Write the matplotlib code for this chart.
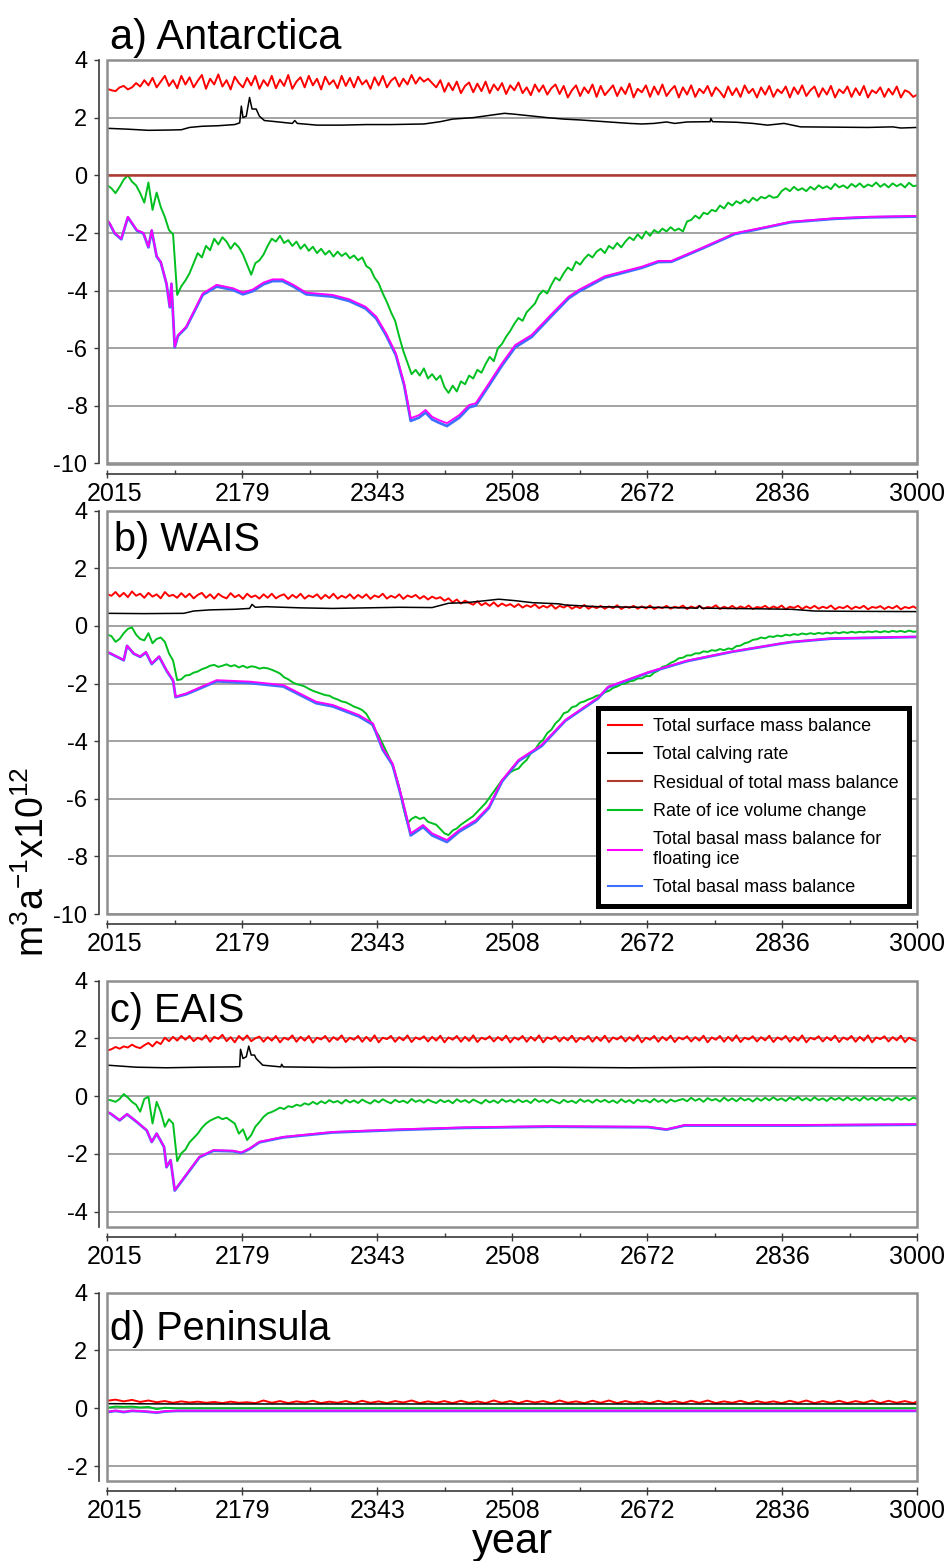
import numpy as np
import matplotlib.pyplot as plt
from matplotlib.lines import Line2D
from matplotlib.patches import Rectangle
from matplotlib.transforms import ScaledTranslation

plt.rcParams['font.family'] = ['Liberation Sans', 'DejaVu Sans']
plt.rcParams['axes.unicode_minus'] = False
plt.rcParams['mathtext.default'] = 'regular'

# sampling years of the noisy series (surface mass balance, volume change)
yr5 = np.arange(2015, 3001, 5)
yr10 = np.append(np.arange(2015, 3000, 10), 3000)

xtick_labels = ['2015', '2179', '2343', '2508', '2672', '2836', '3000']

# ---------------- a) Antarctica ----------------
a_smb = [3.00, 2.95, 2.92, 3.05, 3.10, 2.98, 3.05, 3.20, 3.08, 3.30, 3.12, 3.38, 3.05, 3.25, 3.45, 3.10, 3.30, 3.02, 3.45, 3.15,
         3.40, 3.05, 3.28, 3.48, 3.00, 3.35, 3.15, 3.50, 3.08, 3.30, 2.98, 3.42, 3.20, 3.05, 3.38, 3.12, 3.45, 3.00, 3.30, 3.10,
         3.45, 3.02, 3.32, 3.10, 3.48, 3.00, 3.25, 3.40, 3.05, 3.45, 3.12, 3.35, 2.98, 3.42, 3.15, 3.30, 3.02, 3.45, 3.10, 3.38,
         3.05, 3.42, 3.15, 3.30, 3.00, 3.40, 3.12, 3.45, 3.05, 3.28, 3.40, 3.08, 3.35, 3.15, 3.48, 3.18, 3.40, 3.25, 3.35, 3.20,
         3.05, 3.30, 2.90, 3.20, 2.95, 3.25, 2.85, 3.10, 3.22, 2.88, 3.18, 2.92, 3.25, 2.85, 3.15, 2.95, 3.20, 2.82, 3.12, 2.95,
         3.22, 2.85, 3.05, 2.78, 3.15, 2.90, 3.12, 2.80, 3.02, 3.15, 2.82, 3.10, 2.70, 2.95, 3.12, 2.75, 3.05, 2.85, 3.15, 2.72,
         3.10, 2.78, 2.95, 3.12, 2.75, 3.05, 2.82, 3.18, 2.70, 3.00, 2.88, 3.12, 2.72, 3.08, 2.80, 3.15, 2.75, 2.95, 3.10, 2.70,
         3.05, 2.80, 3.12, 2.72, 3.00, 2.85, 3.10, 2.75, 3.05, 2.90, 2.70, 3.08, 2.78, 3.02, 2.72, 3.12, 2.85, 3.00, 2.70, 3.05,
         2.80, 3.10, 2.72, 2.98, 2.85, 3.08, 2.70, 3.05, 2.82, 3.12, 2.75, 2.95, 3.08, 2.72, 3.02, 2.80, 3.10, 2.70, 2.98, 2.85,
         3.08, 2.72, 3.02, 2.78, 3.10, 2.70, 2.95, 2.85, 3.05, 2.72, 3.00, 2.80, 3.08, 2.70, 2.95, 2.88, 2.72, 2.80]
a_dvol = [-0.35, -0.45, -0.62, -0.40, -0.15, 0.00, -0.22, -0.35, -0.62, -0.95, -0.25, -1.20, -0.60, -1.10, -1.45, -1.90, -2.05, -4.15, -3.85, -3.65,
          -3.40, -3.05, -2.70, -2.85, -2.45, -2.60, -2.20, -2.40, -2.15, -2.30, -2.55, -2.35, -2.50, -2.75, -3.10, -3.45, -3.05, -2.95, -2.75, -2.45,
          -2.20, -2.30, -2.10, -2.35, -2.25, -2.45, -2.30, -2.55, -2.40, -2.62, -2.48, -2.70, -2.55, -2.75, -2.62, -2.82, -2.65, -2.80, -2.70, -2.88,
          -2.78, -2.95, -2.85, -3.15, -3.25, -3.55, -3.75, -4.10, -4.40, -4.75, -5.05, -5.60, -6.10, -6.50, -6.90, -6.75, -6.95, -6.70, -7.05, -6.90,
          -7.10, -6.95, -7.35, -7.55, -7.30, -7.50, -7.15, -7.25, -6.95, -7.05, -6.75, -6.85, -6.55, -6.30, -6.45, -6.00, -5.85, -5.60, -5.40, -5.15,
          -4.95, -5.05, -4.75, -4.60, -4.45, -4.15, -4.00, -4.10, -3.80, -3.55, -3.65, -3.40, -3.20, -3.30, -3.00, -3.10, -2.90, -2.75, -2.85, -2.65,
          -2.55, -2.70, -2.45, -2.55, -2.35, -2.50, -2.30, -2.15, -2.25, -2.05, -2.20, -1.95, -2.10, -1.90, -2.00, -1.85, -1.95, -1.80, -1.92, -1.85,
          -1.95, -1.60, -1.55, -1.40, -1.50, -1.30, -1.35, -1.20, -1.25, -1.05, -1.15, -0.95, -1.05, -0.90, -0.98, -0.85, -0.95, -0.78, -0.88, -0.75,
          -0.80, -0.70, -0.78, -0.75, -0.55, -0.45, -0.55, -0.40, -0.52, -0.45, -0.55, -0.40, -0.50, -0.35, -0.45, -0.38, -0.48, -0.30, -0.42, -0.35,
          -0.45, -0.30, -0.40, -0.28, -0.42, -0.32, -0.38, -0.25, -0.40, -0.30, -0.42, -0.28, -0.38, -0.30, -0.42, -0.26, -0.38, -0.35]
a_calv_yr = [2015, 2040, 2065, 2090, 2105, 2115, 2130, 2150, 2170, 2176, 2178, 2180,
             2184, 2188, 2191, 2196, 2200, 2206, 2220, 2240, 2243, 2246, 2270, 2300,
             2330, 2360, 2400, 2420, 2435, 2460, 2480, 2498, 2510, 2530, 2550, 2570,
             2590, 2610, 2630, 2650, 2665, 2680, 2695, 2705, 2720, 2748, 2749, 2751,
             2780, 2800, 2818, 2838, 2858, 2900, 2940, 2970, 2980, 3000]
a_calv = [1.63, 1.60, 1.56, 1.57, 1.58, 1.66, 1.70, 1.72, 1.76, 1.82, 2.40, 2.00,
          2.05, 2.70, 2.30, 2.30, 2.05, 1.90, 1.86, 1.80, 1.90, 1.80, 1.74, 1.74,
          1.76, 1.76, 1.78, 1.86, 1.95, 2.00, 2.08, 2.15, 2.12, 2.06, 2.00, 1.95,
          1.92, 1.88, 1.84, 1.80, 1.78, 1.80, 1.85, 1.80, 1.85, 1.86, 1.97, 1.86,
          1.84, 1.80, 1.74, 1.80, 1.68, 1.67, 1.66, 1.68, 1.64, 1.66]
a_resid_yr = [2015, 3000]
a_resid = [0.0, 0.0]
a_bmb_yr = [2015, 2018, 2024, 2032, 2040, 2051, 2059, 2065, 2069, 2075, 2080, 2087,
            2091, 2093, 2097, 2101, 2111, 2119, 2131, 2148, 2168, 2180, 2192, 2205,
            2216, 2228, 2240, 2257, 2289, 2309, 2329, 2342, 2354, 2366, 2376, 2384,
            2394, 2402, 2410, 2418, 2428, 2443, 2455, 2463, 2479, 2495, 2511, 2531,
            2556, 2576, 2588, 2620, 2665, 2685, 2701, 2737, 2778, 2818, 2846, 2899,
            2940, 3000]
a_bmb_float = [-1.55, -1.67, -2.00, -2.20, -1.44, -1.90, -2.00, -2.48, -1.90, -2.80, -3.00, -3.75,
               -4.56, -3.75, -5.95, -5.54, -5.25, -4.79, -4.10, -3.80, -3.92, -4.07, -3.96, -3.72,
               -3.61, -3.61, -3.78, -4.07, -4.15, -4.30, -4.56, -4.90, -5.48, -6.18, -7.22, -8.43,
               -8.32, -8.14, -8.38, -8.49, -8.60, -8.32, -7.97, -7.91, -7.22, -6.52, -5.89, -5.54,
               -4.79, -4.21, -3.98, -3.50, -3.17, -2.97, -2.97, -2.53, -2.01, -1.78, -1.61, -1.49,
               -1.44, -1.41]
a_bmb = [-1.57, -1.69, -2.02, -2.22, -1.46, -1.92, -2.02, -2.50, -1.92, -2.82, -3.02, -3.77,
         -4.58, -3.77, -5.97, -5.57, -5.28, -4.83, -4.15, -3.86, -3.98, -4.13, -4.02, -3.78,
         -3.67, -3.67, -3.84, -4.13, -4.21, -4.36, -4.62, -4.97, -5.55, -6.25, -7.29, -8.52,
         -8.41, -8.23, -8.47, -8.58, -8.70, -8.41, -8.05, -7.99, -7.30, -6.60, -5.97, -5.61,
         -4.86, -4.27, -4.04, -3.55, -3.21, -3.01, -3.00, -2.56, -2.04, -1.80, -1.63, -1.51,
         -1.46, -1.43]

# ---------------- b) WAIS ----------------
b_smb = [1.10, 1.05, 1.18, 1.02, 1.15, 1.00, 1.20, 1.05, 1.12, 0.98, 1.15, 1.02, 1.10, 0.96, 1.18, 1.04, 1.08, 0.98, 1.14, 1.00,
         1.12, 0.96, 1.08, 1.15, 0.98, 1.10, 0.95, 1.12, 1.02, 0.96, 1.14, 1.00, 1.08, 0.94, 1.12, 1.00, 1.06, 0.95, 1.10, 0.98,
         1.12, 0.96, 1.05, 1.10, 0.94, 1.08, 0.98, 1.12, 0.95, 1.06, 1.00, 1.10, 0.94, 1.08, 0.97, 1.12, 0.95, 1.05, 0.98, 1.10,
         0.95, 1.08, 0.98, 1.10, 0.94, 1.06, 1.00, 1.12, 0.95, 1.05, 0.98, 1.10, 0.94, 1.06, 1.00, 1.08, 0.95, 1.04, 0.92, 1.02,
         0.95, 1.00, 0.88, 0.96, 0.82, 0.92, 0.78, 0.88, 0.80, 0.74, 0.86, 0.72, 0.80, 0.70, 0.82, 0.68, 0.78, 0.70, 0.76, 0.66,
         0.76, 0.64, 0.72, 0.66, 0.75, 0.62, 0.70, 0.64, 0.74, 0.60, 0.70, 0.64, 0.72, 0.60, 0.68, 0.62, 0.73, 0.60, 0.68, 0.62,
         0.70, 0.60, 0.68, 0.62, 0.72, 0.59, 0.67, 0.63, 0.70, 0.60, 0.68, 0.61, 0.71, 0.59, 0.66, 0.62, 0.70, 0.60, 0.67, 0.63,
         0.71, 0.59, 0.68, 0.62, 0.70, 0.60, 0.66, 0.63, 0.72, 0.59, 0.67, 0.61, 0.70, 0.60, 0.68, 0.62, 0.71, 0.59, 0.66, 0.63,
         0.70, 0.60, 0.68, 0.62, 0.71, 0.58, 0.67, 0.63, 0.70, 0.59, 0.68, 0.61, 0.70, 0.60, 0.67, 0.62, 0.71, 0.58, 0.66, 0.62,
         0.70, 0.59, 0.67, 0.62, 0.70, 0.58, 0.66, 0.63, 0.69, 0.59, 0.67, 0.61, 0.70, 0.58, 0.66, 0.62, 0.68, 0.60]
b_dvol = [-0.30, -0.35, -0.55, -0.45, -0.25, -0.10, -0.05, -0.30, -0.45, -0.50, -0.25, -0.60, -0.45, -0.40, -0.55, -0.95, -1.20, -1.88, -1.85, -1.72,
          -1.70, -1.62, -1.58, -1.50, -1.45, -1.38, -1.35, -1.42, -1.38, -1.33, -1.40, -1.36, -1.44, -1.38, -1.45, -1.40, -1.42, -1.48, -1.45, -1.47,
          -1.52, -1.58, -1.65, -1.78, -1.85, -1.95, -2.02, -2.05, -2.10, -2.18, -2.25, -2.30, -2.35, -2.40, -2.42, -2.50, -2.55, -2.62, -2.65, -2.72,
          -2.80, -2.85, -2.92, -3.05, -3.30, -3.60, -3.80, -4.10, -4.40, -4.70, -5.10, -5.60, -6.30, -6.85, -6.70, -6.62, -6.70, -6.65, -6.80, -6.85,
          -6.90, -7.05, -7.20, -7.26, -7.10, -7.03, -6.90, -6.80, -6.70, -6.60, -6.45, -6.30, -6.15, -5.95, -5.75, -5.55, -5.35, -5.22, -5.08, -5.00,
          -4.95, -4.78, -4.65, -4.42, -4.30, -4.08, -3.95, -3.72, -3.60, -3.38, -3.25, -3.03, -2.98, -2.82, -2.78, -2.66, -2.62, -2.55, -2.50, -2.42,
          -2.40, -2.30, -2.25, -2.15, -2.10, -2.02, -2.00, -1.92, -1.90, -1.82, -1.82, -1.74, -1.74, -1.62, -1.55, -1.42, -1.38, -1.28, -1.22, -1.12,
          -1.10, -1.02, -1.02, -0.95, -0.95, -0.88, -0.90, -0.84, -0.86, -0.80, -0.84, -0.78, -0.80, -0.70, -0.68, -0.60, -0.56, -0.48, -0.46, -0.40,
          -0.43, -0.36, -0.38, -0.33, -0.36, -0.30, -0.33, -0.28, -0.31, -0.26, -0.29, -0.25, -0.28, -0.24, -0.27, -0.23, -0.26, -0.22, -0.25, -0.21,
          -0.24, -0.20, -0.23, -0.20, -0.22, -0.19, -0.21, -0.18, -0.22, -0.18, -0.21, -0.17, -0.20, -0.17, -0.21, -0.16, -0.20, -0.19]
b_calv_yr = [2015, 2060, 2108, 2120, 2140, 2170, 2188, 2191, 2195, 2208, 2250, 2289,
             2330, 2370, 2410, 2430, 2451, 2475, 2491, 2511, 2532, 2564, 2572, 2612,
             2665, 2700, 2733, 2735, 2738, 2800, 2847, 2875, 2920, 3000]
b_calv = [0.44, 0.43, 0.44, 0.52, 0.56, 0.58, 0.61, 0.75, 0.65, 0.67, 0.63, 0.61,
          0.63, 0.65, 0.64, 0.79, 0.81, 0.88, 0.93, 0.88, 0.81, 0.77, 0.73, 0.67,
          0.65, 0.64, 0.62, 0.70, 0.62, 0.60, 0.58, 0.52, 0.51, 0.50]
b_bmb_yr = [2015, 2019, 2035, 2039, 2047, 2055, 2062, 2069, 2078, 2087, 2095, 2098,
            2111, 2130, 2148, 2188, 2229, 2249, 2269, 2289, 2321, 2338, 2350, 2362,
            2374, 2384, 2399, 2410, 2428, 2443, 2463, 2479, 2495, 2515, 2543, 2572,
            2612, 2624, 2673, 2720, 2774, 2835, 2847, 2895, 3000]
b_bmb_float = [-0.90, -0.95, -1.18, -0.68, -0.95, -1.06, -0.90, -1.30, -1.05, -1.53, -1.88, -2.45,
               -2.34, -2.10, -1.88, -1.93, -2.05, -2.34, -2.63, -2.74, -3.09, -3.38, -4.25, -4.77,
               -6.04, -7.20, -6.91, -7.20, -7.43, -7.08, -6.74, -6.27, -5.35, -4.65, -4.13, -3.26,
               -2.48, -2.11, -1.60, -1.20, -0.89, -0.60, -0.55, -0.43, -0.37]
b_bmb = [-0.91, -0.96, -1.19, -0.69, -0.96, -1.07, -0.92, -1.32, -1.07, -1.55, -1.90, -2.47,
         -2.37, -2.14, -1.92, -1.98, -2.10, -2.39, -2.68, -2.79, -3.14, -3.43, -4.30, -4.83,
         -6.10, -7.27, -6.98, -7.27, -7.50, -7.14, -6.80, -6.32, -5.40, -4.69, -4.17, -3.29,
         -2.51, -2.13, -1.62, -1.22, -0.90, -0.61, -0.56, -0.44, -0.38]

# ---------------- c) EAIS ----------------
c_smb = [1.58, 1.62, 1.70, 1.64, 1.72, 1.68, 1.78, 1.70, 1.66, 1.76, 1.84, 1.72, 1.88, 1.80, 2.02, 1.90, 2.05, 1.92, 2.08, 1.95,
         2.08, 1.90, 2.02, 1.95, 2.10, 1.88, 2.05, 1.98, 2.12, 1.90, 2.04, 1.86, 2.08, 1.94, 2.10, 1.90, 2.00, 2.06, 1.88, 2.04,
         1.92, 2.08, 1.86, 2.02, 1.95, 2.10, 1.88, 2.05, 1.92, 2.08, 1.85, 2.02, 1.96, 2.08, 1.88, 2.04, 1.94, 2.10, 1.87, 2.02,
         1.95, 2.08, 1.88, 2.05, 1.90, 2.10, 1.86, 2.02, 1.97, 2.08, 1.88, 2.04, 1.93, 2.10, 1.87, 2.03, 1.96, 2.07, 1.89, 2.05,
         1.92, 2.09, 1.86, 2.03, 1.95, 2.08, 1.88, 2.05, 1.91, 2.10, 1.87, 2.02, 1.96, 2.07, 1.89, 2.04, 1.93, 2.09, 1.86, 2.03,
         1.95, 2.08, 1.88, 2.05, 1.92, 2.10, 1.86, 2.03, 1.97, 2.07, 1.89, 2.04, 1.93, 2.09, 1.87, 2.02, 1.95, 2.08, 1.88, 2.05,
         1.91, 2.09, 1.87, 2.03, 1.96, 2.07, 1.89, 2.04, 1.92, 2.10, 1.86, 2.02, 1.95, 2.08, 1.88, 2.05, 1.93, 2.09, 1.87, 2.03,
         1.96, 2.07, 1.89, 2.04, 1.92, 2.09, 1.86, 2.03, 1.95, 2.08, 1.88, 2.05, 1.91, 2.10, 1.87, 2.02, 1.96, 2.07, 1.89, 2.04,
         1.93, 2.09, 1.87, 2.03, 1.95, 2.08, 1.88, 2.05, 1.92, 2.10, 1.86, 2.02, 1.96, 2.07, 1.89, 2.04, 1.93, 2.09, 1.87, 2.03,
         1.95, 2.08, 1.88, 2.05, 1.92, 2.10, 1.86, 2.03, 1.97, 2.07, 1.89, 2.04, 1.93, 2.09, 1.87, 2.02, 1.95, 1.90]
c_dvol = [-0.12, -0.15, -0.20, -0.10, 0.07, -0.05, -0.20, -0.30, -0.54, -0.10, -0.02, -0.95, -0.20, -0.55, -1.06, -0.80, -0.95, -2.25, -1.98, -1.85,
          -1.60, -1.45, -1.30, -1.10, -0.95, -0.85, -0.78, -0.72, -0.80, -0.75, -0.85, -0.95, -1.30, -1.15, -1.52, -1.35, -1.06, -0.90, -0.72, -0.60,
          -0.55, -0.48, -0.40, -0.45, -0.35, -0.38, -0.30, -0.34, -0.25, -0.30, -0.20, -0.28, -0.18, -0.25, -0.14, -0.22, -0.17, -0.26, -0.13, -0.22,
          -0.15, -0.24, -0.12, -0.20, -0.26, -0.14, -0.22, -0.11, -0.19, -0.25, -0.13, -0.21, -0.16, -0.24, -0.10, -0.20, -0.14, -0.23, -0.12, -0.19,
          -0.24, -0.13, -0.21, -0.15, -0.25, -0.11, -0.20, -0.14, -0.23, -0.12, -0.19, -0.26, -0.13, -0.22, -0.15, -0.24, -0.11, -0.20, -0.14, -0.22,
          -0.12, -0.21, -0.15, -0.24, -0.10, -0.20, -0.14, -0.23, -0.12, -0.19, -0.25, -0.13, -0.21, -0.16, -0.24, -0.11, -0.20, -0.14, -0.23, -0.12,
          -0.20, -0.13, -0.22, -0.15, -0.24, -0.11, -0.21, -0.14, -0.25, -0.12, -0.19, -0.14, -0.22, -0.10, -0.20, -0.13, -0.23, -0.12, -0.19, -0.14,
          -0.10, -0.18, -0.06, -0.16, -0.09, -0.20, -0.07, -0.15, -0.10, -0.19, -0.05, -0.16, -0.08, -0.18, -0.06, -0.15, -0.09, -0.19, -0.07, -0.16,
          -0.06, -0.15, -0.04, -0.14, -0.08, -0.17, -0.05, -0.13, -0.03, -0.15, -0.07, -0.16, -0.04, -0.14, -0.08, -0.17, -0.05, -0.13, -0.06, -0.15,
          -0.04, -0.14, -0.07, -0.16, -0.03, -0.13, -0.06, -0.15, -0.05, -0.14, -0.08, -0.16, -0.04, -0.13, -0.06, -0.15, -0.05, -0.10]
c_calv_yr = [2015, 2050, 2087, 2130, 2168, 2176, 2177, 2180, 2184, 2187, 2190, 2194,
             2196, 2204, 2226, 2227, 2229, 2289, 2350, 2450, 2550, 2650, 2750, 2850,
             2950, 3000]
c_calv = [1.07, 1.00, 0.98, 1.00, 1.01, 1.02, 1.62, 1.30, 1.36, 1.73, 1.42, 1.42,
          1.30, 1.07, 1.01, 1.10, 1.01, 0.99, 1.00, 0.99, 1.00, 0.98, 1.00, 0.99,
          0.98, 0.98]
c_bmb_yr = [2015, 2019, 2030, 2039, 2051, 2063, 2069, 2075, 2084, 2087, 2092, 2097,
            2103, 2115, 2127, 2144, 2168, 2178, 2188, 2200, 2229, 2289, 2370, 2450,
            2552, 2673, 2695, 2717, 2855, 3000]
c_bmb_float = [-0.55, -0.60, -0.83, -0.62, -0.89, -1.18, -1.58, -1.29, -1.75, -2.45, -2.21, -3.25,
               -3.02, -2.56, -2.10, -1.87, -1.89, -1.95, -1.81, -1.58, -1.41, -1.24, -1.15, -1.08,
               -1.04, -1.06, -1.15, -1.00, -1.00, -0.97]
c_bmb = [-0.56, -0.61, -0.84, -0.63, -0.90, -1.19, -1.59, -1.30, -1.76, -2.46, -2.22, -3.27,
         -3.04, -2.58, -2.12, -1.89, -1.91, -1.97, -1.83, -1.60, -1.43, -1.26, -1.17, -1.10,
         -1.06, -1.08, -1.16, -1.02, -1.02, -0.99]

# ---------------- d) Peninsula ----------------
d_smb = [0.26, 0.30, 0.24, 0.29, 0.22, 0.27, 0.21, 0.25, 0.19, 0.24,
         0.20, 0.23, 0.19, 0.22, 0.18, 0.23, 0.19, 0.21, 0.18, 0.27,
         0.19, 0.25, 0.18, 0.24, 0.20, 0.26, 0.18, 0.23, 0.19, 0.25,
         0.18, 0.26, 0.19, 0.24, 0.18, 0.25, 0.20, 0.27, 0.18, 0.24,
         0.19, 0.25, 0.18, 0.26, 0.19, 0.24, 0.18, 0.27, 0.19, 0.25,
         0.18, 0.26, 0.20, 0.25, 0.18, 0.27, 0.19, 0.24, 0.18, 0.26,
         0.19, 0.27, 0.18, 0.25, 0.19, 0.24, 0.18, 0.26, 0.19, 0.25,
         0.18, 0.26, 0.19, 0.27, 0.18, 0.24, 0.19, 0.26, 0.18, 0.25,
         0.19, 0.24, 0.18, 0.26, 0.19, 0.27, 0.18, 0.25, 0.19, 0.26,
         0.18, 0.25, 0.19, 0.27, 0.18, 0.26, 0.19, 0.25, 0.18, 0.24]
d_calv_yr = [2015, 2100, 3000]
d_calv = [0.16, 0.15, 0.15]
d_dvol_yr = [2015, 2025, 2035, 2045, 2055, 2065, 2075, 2085, 2100, 3000]
d_dvol = [0.02, 0.06, 0.05, 0.06, 0.03, 0.05, -0.03, 0.02, 0.00, 0.00]
d_bmb_yr = [2015, 2025, 2035, 2045, 2060, 2075, 2085, 2100, 3000]
d_bmb_float = [-0.12, -0.08, -0.12, -0.08, -0.10, -0.14, -0.10, -0.08, -0.08]
d_bmb = [-0.13, -0.09, -0.13, -0.09, -0.11, -0.15, -0.11, -0.09, -0.09]

labels = ['Total surface mass balance', 'Total calving rate',
          'Residual of total mass balance', 'Rate of ice volume change',
          'Total basal mass balance for\nfloating ice', 'Total basal mass balance']
colors = ['#ff0000', '#000000', '#b03a2e', '#00c020', '#ff00ff', '#3f6fff']

W, H = 944, 1561
fig = plt.figure(figsize=(W / 100, H / 100), dpi=100)


def px_axes(left, top, right, bottom):
    return fig.add_axes([left / W, 1 - bottom / H, (right - left) / W, (bottom - top) / H])


def style(ax, ylim, yticks):
    ax.set_xlim(2015, 3000)
    ax.set_ylim(*ylim)
    ax.set_yticks(yticks)
    ax.set_xticks(np.linspace(2015, 3000, 7))
    ax.set_xticklabels(xtick_labels)
    ax.set_xticks(np.linspace(2015, 3000, 13), minor=True)
    ax.spines['top'].set_visible(False)
    ax.spines['right'].set_visible(False)
    ax.spines['left'].set_position(('outward', 5.8))
    ax.spines['bottom'].set_position(('outward', 7.2))
    for s in ('left', 'bottom'):
        ax.spines[s].set_color('#3a3a3a')
        ax.spines[s].set_linewidth(1.2)
    ax.grid(axis='y', color='#8a8a8a', lw=1.1)
    ax.set_axisbelow(True)
    ax.add_patch(Rectangle((0, 0), 1, 1, transform=ax.transAxes, fill=False,
                           ec='#8f8f8f', lw=1.8, clip_on=False, zorder=6))
    ax.tick_params(axis='y', direction='out', length=3.5, width=1, pad=5,
                   labelsize=17, color='#3a3a3a')
    ax.tick_params(axis='x', which='major', direction='inout', length=6, width=1,
                   pad=3, labelsize=18, color='#3a3a3a')
    ax.tick_params(axis='x', which='minor', direction='in', length=3, width=1,
                   color='#3a3a3a')
    # first year label sits a little right of its tick, as in the original
    first = ax.get_xticklabels()[0]
    first.set_transform(first.get_transform() + ScaledTranslation(5 / 72, 0, fig.dpi_scale_trans))


def draw(ax, smb_yr, smb, calv_yr, calv, dvol_yr, dvol, bmb_yr, bmb_float, bmb):
    ax.plot(smb_yr, smb, color=colors[0], lw=1.4, zorder=2)
    ax.plot(calv_yr, calv, color=colors[1], lw=1.1, zorder=3)
    ax.plot(dvol_yr, dvol, color=colors[3], lw=1.4, zorder=3)
    ax.plot(bmb_yr, bmb, color=colors[5], lw=2.0, zorder=4)
    ax.plot(bmb_yr, bmb_float, color=colors[4], lw=1.3, zorder=5)


ax_a = px_axes(107.3, 60, 917.3, 463.5)
draw(ax_a, yr5, a_smb, a_calv_yr, a_calv, yr5, a_dvol, a_bmb_yr, a_bmb_float, a_bmb)
ax_a.plot(a_resid_yr, a_resid, color=colors[2], lw=1.8, zorder=3)
style(ax_a, (-10, 4), np.arange(-10, 5, 2))

ax_b = px_axes(107.3, 510.8, 917.3, 914)
draw(ax_b, yr5, b_smb, b_calv_yr, b_calv, yr5, b_dvol, b_bmb_yr, b_bmb_float, b_bmb)
style(ax_b, (-10, 4), np.arange(-10, 5, 2))

ax_c = px_axes(107.3, 980.5, 917.3, 1226.7)
draw(ax_c, yr5, c_smb, c_calv_yr, c_calv, yr5, c_dvol, c_bmb_yr, c_bmb_float, c_bmb)
style(ax_c, (-4.52, 4), np.arange(-4, 5, 2))

ax_d = px_axes(107.3, 1292.5, 917.3, 1480.7)
draw(ax_d, yr10, d_smb, d_calv_yr, d_calv, d_dvol_yr, d_dvol, d_bmb_yr, d_bmb_float, d_bmb)
style(ax_d, (-2.5, 4), np.arange(-2, 5, 2))

# panel titles
fig.text(110 / W, 1 - 48.5 / H, 'a) Antarctica', fontsize=30, va='baseline')
fig.text(114 / W, 1 - 550.7 / H, 'b) WAIS', fontsize=28.5, va='baseline')
fig.text(110 / W, 1 - 1021.7 / H, 'c) EAIS', fontsize=28.5, va='baseline')
fig.text(110 / W, 1 - 1340 / H, 'd) Peninsula', fontsize=28.5, va='baseline')

# legend in panel b
handles = [Line2D([], [], color=c, lw=1.5) for c in colors]
leg = ax_b.legend(handles, labels, loc='upper left', bbox_to_anchor=(0.606, 0.51),
                  fontsize=13, frameon=True, fancybox=False, edgecolor='black',
                  framealpha=1, handlelength=1.9, handletextpad=0.6,
                  labelspacing=0.62, borderpad=0.55, borderaxespad=0)
leg.get_frame().set_linewidth(3.6)
leg.set_zorder(10)

fig.text(33 / W, 1 - 862 / H, r'm$^{3}$a$^{-1}$x10$^{12}$', fontsize=27,
         rotation=90, ha='center', va='center')
fig.text(512 / W, 1 - 1553 / H, 'year', fontsize=30, ha='center', va='baseline')

fig.savefig('out.png', dpi=100)
